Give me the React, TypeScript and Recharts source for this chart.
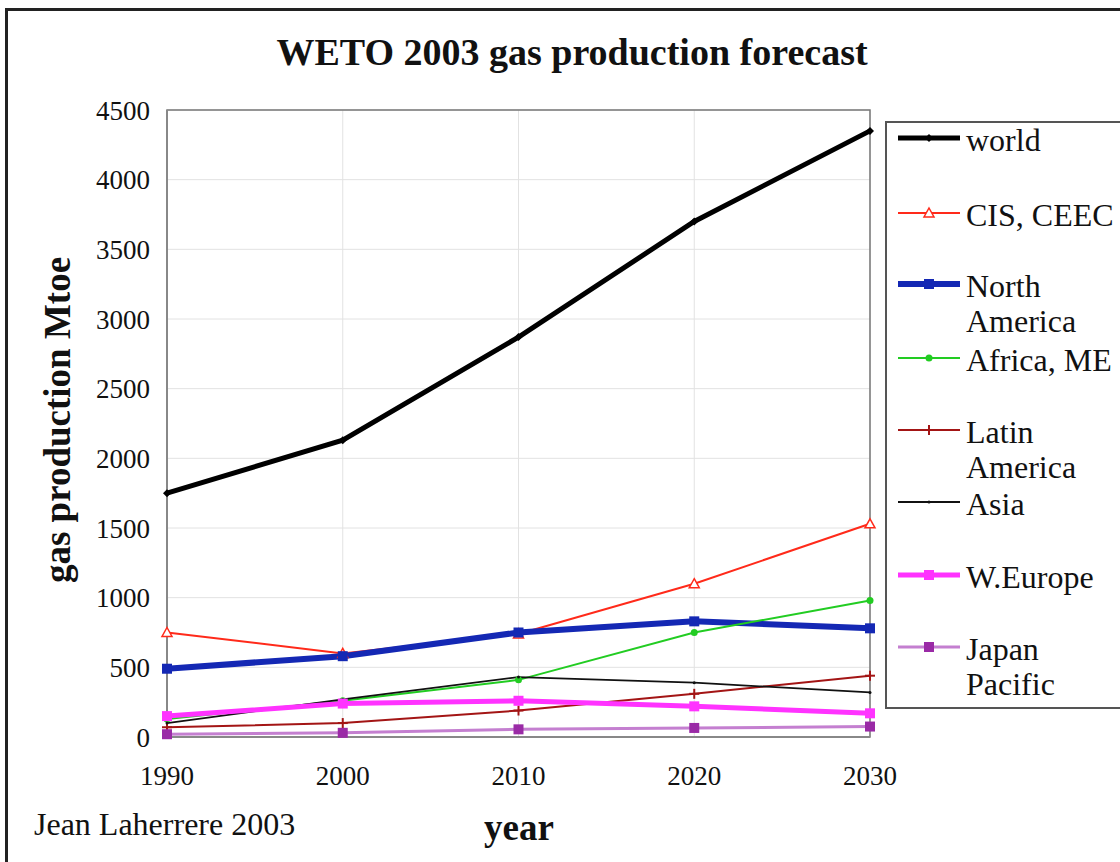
import React from 'react'
import { LineChart, Line, XAxis, YAxis, CartesianGrid, ReferenceArea } from 'recharts'

const years = [1990, 2000, 2010, 2020, 2030]
const world = [1750, 2130, 2870, 3700, 4350]
const cisCeec = [750, 600, 740, 1100, 1530]
const northAmerica = [490, 580, 750, 830, 780]
const africaMe = [130, 260, 410, 750, 980]
const latinAmerica = [70, 100, 190, 310, 440]
const asia = [100, 270, 430, 390, 320]
const wEurope = [150, 240, 260, 220, 170]
const japanPacific = [20, 30, 55, 65, 75]
const yTicks = [0, 500, 1000, 1500, 2000, 2500, 3000, 3500, 4000, 4500]

const data = years.map((year, i) => ({
  year,
  world: world[i],
  cis: cisCeec[i],
  na: northAmerica[i],
  africa: africaMe[i],
  latin: latinAmerica[i],
  asia: asia[i],
  weurope: wEurope[i],
  japan: japanPacific[i],
}))

const serif = '"Liberation Serif", "Times New Roman", serif'

type Shape = 'diamond' | 'triangle' | 'square' | 'circle' | 'plus' | 'tiny'

const Marker = ({ cx, cy, shape, color, size }: { cx: number; cy: number; shape: Shape; color: string; size: number }) => {
  if (cx == null || cy == null) return null
  const s = size
  switch (shape) {
    case 'diamond':
      return <polygon points={`${cx},${cy - s} ${cx + s},${cy} ${cx},${cy + s} ${cx - s},${cy}`} fill={color} />
    case 'triangle':
      return (
        <polygon
          points={`${cx},${cy - s} ${cx + s},${cy + s * 0.8} ${cx - s},${cy + s * 0.8}`}
          fill="#fff"
          stroke={color}
          strokeWidth={1.5}
        />
      )
    case 'square':
      return <rect x={cx - s} y={cy - s} width={s * 2} height={s * 2} fill={color} />
    case 'plus':
      return (
        <g stroke={color} strokeWidth={2}>
          <line x1={cx - s} y1={cy} x2={cx + s} y2={cy} />
          <line x1={cx} y1={cy - s} x2={cx} y2={cy + s} />
        </g>
      )
    default:
      return <circle cx={cx} cy={cy} r={s} fill={color} />
  }
}

const series = [
  { key: 'world', name: ['world'], color: '#000', marker: '#000', width: 5, shape: 'diamond' as Shape, size: 4, rowY: 138 },
  { key: 'cis', name: ['CIS, CEEC'], color: '#ff2a1a', marker: '#ff2a1a', width: 2, shape: 'triangle' as Shape, size: 5, rowY: 213 },
  { key: 'na', name: ['North', 'America'], color: '#1428b4', marker: '#1428b4', width: 6, shape: 'square' as Shape, size: 5, rowY: 284 },
  { key: 'africa', name: ['Africa, ME'], color: '#22cc22', marker: '#22cc22', width: 2, shape: 'circle' as Shape, size: 3.5, rowY: 358 },
  { key: 'latin', name: ['Latin', 'America'], color: '#a31515', marker: '#a31515', width: 2, shape: 'plus' as Shape, size: 5, rowY: 430 },
  { key: 'asia', name: ['Asia'], color: '#111', marker: '#111', width: 1.8, shape: 'tiny' as Shape, size: 1.5, rowY: 502 },
  { key: 'weurope', name: ['W.Europe'], color: '#ff33ff', marker: '#ff33ff', width: 5, shape: 'square' as Shape, size: 5, rowY: 575 },
  { key: 'japan', name: ['Japan', 'Pacific'], color: '#c47fd0', marker: '#9a2aa6', width: 3, shape: 'square' as Shape, size: 5, rowY: 647 },
]

const abs = (left: number, top: number, extra: React.CSSProperties = {}): React.CSSProperties => ({
  position: 'absolute',
  left,
  top,
  fontFamily: serif,
  color: '#111',
  whiteSpace: 'nowrap',
  ...extra,
})

export default function App() {
  return (
    <div style={{ position: 'absolute', left: 0, top: 0, width: 1120, height: 862, overflow: 'hidden', background: '#fff' }}>
      <div style={{ position: 'absolute', left: 5, top: 8, width: 1140, height: 880, border: '3px solid #222' }} />
      <div style={{ position: 'absolute', left: 0, top: 0 }}>
        <LineChart width={1120} height={862} data={data} margin={{ top: 110, right: 250, bottom: 85, left: 107 }}>
          <CartesianGrid stroke="#e2e2e2" strokeWidth={1} />
          <XAxis
            dataKey="year"
            type="number"
            domain={[1990, 2030]}
            ticks={years}
            height={40}
            tickSize={0}
            tickMargin={29}
            axisLine={{ stroke: '#888', strokeWidth: 2 }}
            tick={{ fontFamily: serif, fontSize: 27, fill: '#111' }}
          />
          <YAxis
            domain={[0, 4500]}
            ticks={yTicks}
            width={60}
            tickSize={0}
            tickMargin={17}
            axisLine={{ stroke: '#888', strokeWidth: 2 }}
            tick={{ fontFamily: serif, fontSize: 27, fill: '#111' }}
          />
          <ReferenceArea x1={1990} x2={2030} y1={0} y2={4500} fill="none" stroke="#777" strokeWidth={1.5} ifOverflow="visible" />
          {series.map((s) => (
            <Line
              key={s.key}
              dataKey={s.key}
              type="linear"
              stroke={s.color}
              strokeWidth={s.width}
              isAnimationActive={false}
              activeDot={false}
              dot={(p: any) => (
                <Marker key={`${s.key}-${p.index}`} cx={p.cx} cy={p.cy} shape={s.shape} color={s.marker} size={s.size} />
              )}
            />
          ))}
        </LineChart>
      </div>

      <div style={abs(172, 33, { fontSize: 38, lineHeight: '38px', fontWeight: 'bold', width: 800, textAlign: 'center' })}>
        WETO 2003 gas production forecast
      </div>
      <div
        style={abs(58, 420, {
          fontSize: 37,
          lineHeight: '38px',
          fontWeight: 'bold',
          transform: 'translate(-50%, -50%) rotate(-90deg)',
        })}
      >
        gas production Mtoe
      </div>
      <div style={abs(519, 809, { fontSize: 37, lineHeight: '37px', fontWeight: 'bold', transform: 'translateX(-50%)' })}>
        year
      </div>
      <div style={abs(34, 808, { fontSize: 32, lineHeight: '32px' })}>Jean Laherrere 2003</div>

      <div style={{ position: 'absolute', left: 885, top: 121, width: 260, height: 584, border: '2px solid #555', background: '#fff' }} />
      {series.map((s) => (
        <React.Fragment key={s.key}>
          <svg style={{ position: 'absolute', left: 894, top: s.rowY - 10 }} width={72} height={20}>
            <line x1={4} y1={10} x2={66} y2={10} stroke={s.color} strokeWidth={s.width} />
            <Marker cx={35} cy={10} shape={s.shape} color={s.marker} size={s.size} />
          </svg>
          <div style={abs(966, s.rowY - 15, { fontSize: 32, lineHeight: '35px' })}>
            {s.name.map((n) => (
              <div key={n}>{n}</div>
            ))}
          </div>
        </React.Fragment>
      ))}
    </div>
  )
}
